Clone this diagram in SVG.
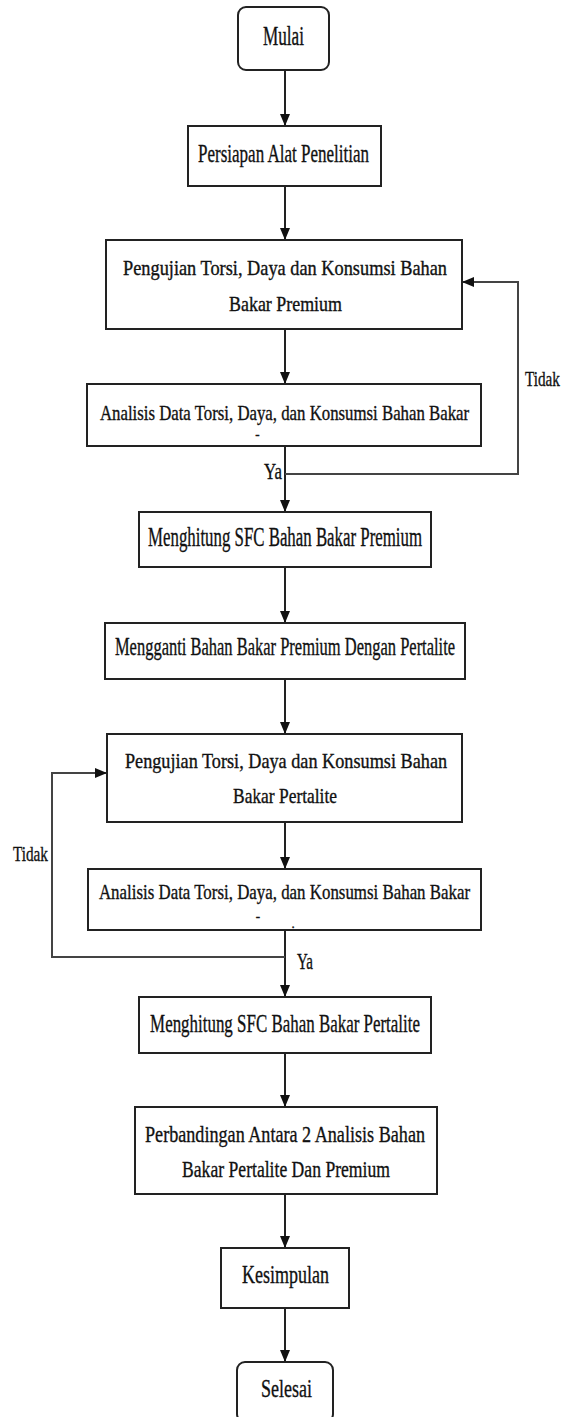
<svg xmlns="http://www.w3.org/2000/svg" width="573" height="1417" viewBox="0 0 573 1417">
<style>
.box{fill:#fff;stroke:#222;stroke-width:2}
.t{font-family:"Liberation Serif","Times New Roman",serif;fill:#111;stroke:#111;stroke-width:0.35;text-anchor:middle}
.ln{fill:none;stroke:#222;stroke-width:2}
.lp{fill:none;stroke:#444;stroke-width:2}
</style>
<defs>
<marker id="ah" viewBox="0 0 12 10" markerWidth="12" markerHeight="10" refX="12" refY="5" orient="auto" markerUnits="userSpaceOnUse">
<path d="M0,0 L12,5 L0,10 z" fill="#111"/>
</marker>
</defs>
<rect width="573" height="1417" fill="#fff"/>
<g id="connectors">
<line class="ln" x1="285" y1="70" x2="285" y2="126" marker-end="url(#ah)"/>
<line class="ln" x1="285" y1="186" x2="285" y2="240" marker-end="url(#ah)"/>
<line class="ln" x1="285" y1="329" x2="285" y2="384" marker-end="url(#ah)"/>
<line class="ln" x1="285" y1="446" x2="285" y2="512" marker-end="url(#ah)"/>
<path class="lp" d="M285,474 H518 V282 H462" marker-end="url(#ah)"/>
<line class="ln" x1="285" y1="567" x2="285" y2="623" marker-end="url(#ah)"/>
<line class="ln" x1="285" y1="679" x2="285" y2="734" marker-end="url(#ah)"/>
<line class="ln" x1="285" y1="822" x2="285" y2="869" marker-end="url(#ah)"/>
<line class="ln" x1="285" y1="930" x2="285" y2="997" marker-end="url(#ah)"/>
<path class="lp" d="M285,957 H52 V773 H107" marker-end="url(#ah)"/>
<line class="ln" x1="285" y1="1053" x2="285" y2="1107" marker-end="url(#ah)"/>
<line class="ln" x1="285" y1="1194" x2="285" y2="1248" marker-end="url(#ah)"/>
<line class="ln" x1="285" y1="1308" x2="285" y2="1362" marker-end="url(#ah)"/>
<text class="t" transform="translate(273,479) scale(0.643,1)" font-size="24" textLength="28" lengthAdjust="spacingAndGlyphs">Ya</text>
<text class="t" transform="translate(542.5,386) scale(0.682,1)" font-size="22" textLength="51.3" lengthAdjust="spacingAndGlyphs">Tidak</text>
<text class="t" transform="translate(30.5,861) scale(0.682,1)" font-size="22" textLength="51.3" lengthAdjust="spacingAndGlyphs">Tidak</text>
<text class="t" transform="translate(305,969) scale(0.571,1)" font-size="24" textLength="28" lengthAdjust="spacingAndGlyphs">Ya</text>
</g>
<g id="mulai">
<rect class="box" x="238" y="7" width="91" height="63" rx="8"/>
<text class="t" transform="translate(283.5,45) scale(0.636,1)" font-size="27" textLength="64.5" lengthAdjust="spacingAndGlyphs">Mulai</text>
</g>
<g id="persiapan">
<rect class="box" x="188" y="126" width="193" height="60"/>
<text class="t" transform="translate(283.5,162) scale(0.650,1)" font-size="26" textLength="262.9" lengthAdjust="spacingAndGlyphs">Persiapan Alat Penelitian</text>
</g>
<g id="pengujian-premium">
<rect class="box" x="106" y="240" width="356" height="89"/>
<text class="t" transform="translate(285,275) scale(0.868,1)" font-size="21" textLength="373.3" lengthAdjust="spacingAndGlyphs">Pengujian Torsi, Daya dan Konsumsi Bahan</text>
<text class="t" transform="translate(285.5,311) scale(0.853,1)" font-size="21" textLength="132.4" lengthAdjust="spacingAndGlyphs">Bakar Premium</text>
</g>
<g id="analisis-premium">
<rect class="box" x="87" y="384" width="394" height="62"/>
<text class="t" transform="translate(284.5,420) scale(0.760,1)" font-size="22" textLength="485.8" lengthAdjust="spacingAndGlyphs">Analisis Data Torsi, Daya, dan Konsumsi Bahan Bakar</text>
<text class="t" x="257.5" y="439" font-size="13">-</text>
</g>
<g id="sfc-premium">
<rect class="box" x="139" y="512" width="292" height="55"/>
<text class="t" transform="translate(285,546) scale(0.601,1)" font-size="28" textLength="455.8" lengthAdjust="spacingAndGlyphs">Menghitung SFC Bahan Bakar Premium</text>
</g>
<g id="mengganti">
<rect class="box" x="105" y="623" width="360" height="56"/>
<text class="t" transform="translate(285,655) scale(0.634,1)" font-size="26" textLength="536.5" lengthAdjust="spacingAndGlyphs">Mengganti Bahan Bakar Premium Dengan Pertalite</text>
</g>
<g id="pengujian-pertalite">
<rect class="box" x="107" y="734" width="355" height="88"/>
<text class="t" transform="translate(286,768) scale(0.863,1)" font-size="21" textLength="373.3" lengthAdjust="spacingAndGlyphs">Pengujian Torsi, Daya dan Konsumsi Bahan</text>
<text class="t" transform="translate(285,803) scale(0.829,1)" font-size="21" textLength="125.4" lengthAdjust="spacingAndGlyphs">Bakar Pertalite</text>
</g>
<g id="analisis-pertalite">
<rect class="box" x="88" y="869" width="393" height="61"/>
<text class="t" transform="translate(284.5,899) scale(0.764,1)" font-size="22" textLength="485.8" lengthAdjust="spacingAndGlyphs">Analisis Data Torsi, Daya, dan Konsumsi Bahan Bakar</text>
<text class="t" x="258" y="921" font-size="13">-</text>
<text class="t" x="293" y="928" font-size="13">.</text>
</g>
<g id="sfc-pertalite">
<rect class="box" x="139" y="997" width="292" height="56"/>
<text class="t" transform="translate(285,1032) scale(0.651,1)" font-size="26" textLength="414.5" lengthAdjust="spacingAndGlyphs">Menghitung SFC Bahan Bakar Pertalite</text>
</g>
<g id="perbandingan">
<rect class="box" x="135" y="1107" width="302" height="87"/>
<text class="t" transform="translate(285,1142) scale(0.750,1)" font-size="24" textLength="373.3" lengthAdjust="spacingAndGlyphs">Perbandingan Antara 2 Analisis Bahan</text>
<text class="t" transform="translate(286,1177) scale(0.734,1)" font-size="24" textLength="283.3" lengthAdjust="spacingAndGlyphs">Bakar Pertalite Dan Premium</text>
</g>
<g id="kesimpulan">
<rect class="box" x="221" y="1248" width="128" height="60"/>
<text class="t" transform="translate(285.5,1283) scale(0.692,1)" font-size="26" textLength="125.7" lengthAdjust="spacingAndGlyphs">Kesimpulan</text>
</g>
<g id="selesai">
<rect class="box" x="237" y="1362" width="96" height="60" rx="8"/>
<text class="t" transform="translate(286.5,1397) scale(0.692,1)" font-size="26" textLength="73.7" lengthAdjust="spacingAndGlyphs">Selesai</text>
</g>
</svg>
